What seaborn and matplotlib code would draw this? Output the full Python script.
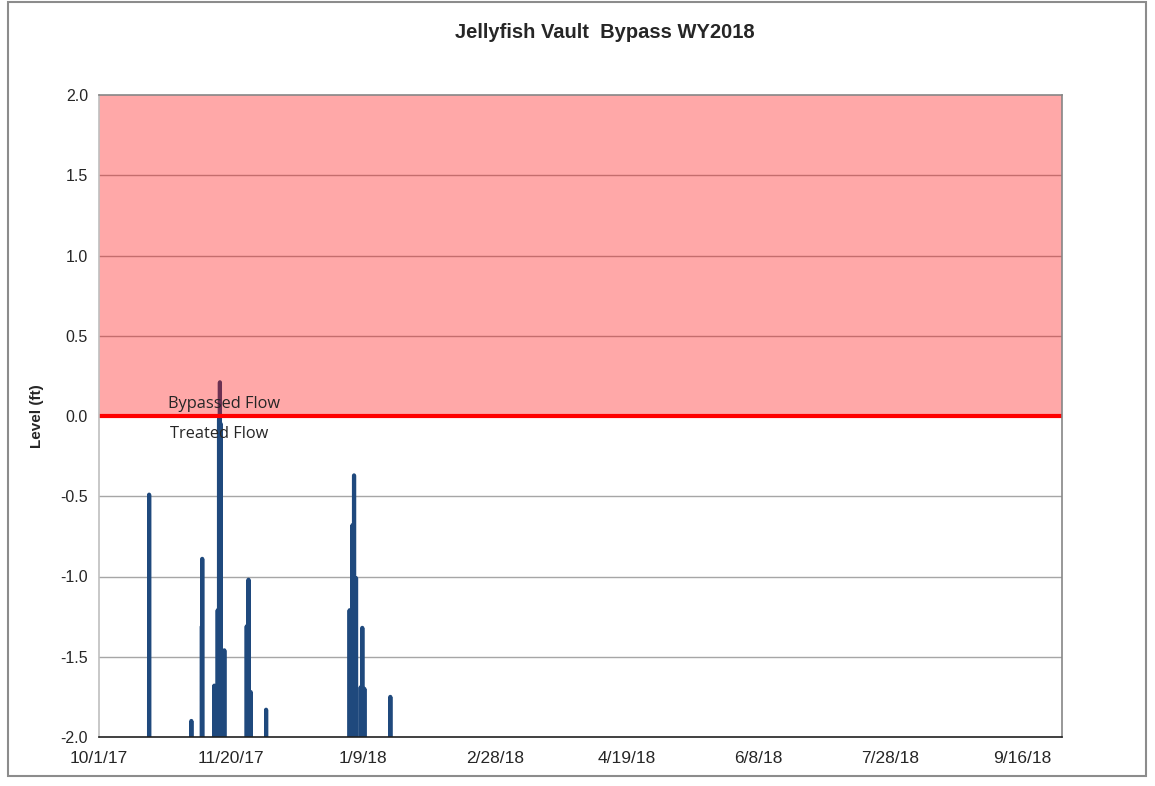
import seaborn as sns
import matplotlib.pyplot as plt
import matplotlib.dates as mdates
from matplotlib.patches import Rectangle
import pandas as pd
import numpy as np

# vault level readings (ft) that rose above the floor of the record
event_times = ['2017-10-20 00:00', '2017-11-05 00:00', '2017-11-09 00:00', '2017-11-09 03:00',
               '2017-11-13 17:00', '2017-11-15 00:00', '2017-11-15 12:00', '2017-11-15 20:00',
               '2017-11-16 04:00', '2017-11-17 12:00', '2017-11-26 00:00', '2017-11-26 16:00',
               '2017-11-27 12:00', '2017-12-03 08:00', '2018-01-04 00:00', '2018-01-05 02:00',
               '2018-01-05 16:00', '2018-01-06 10:00', '2018-01-08 05:00', '2018-01-08 19:00',
               '2018-01-09 14:00', '2018-01-19 10:00']
event_levels = [-0.49, -1.90, -1.31, -0.89,
                -1.68, -1.21, -0.02, 0.21,
                -0.05, -1.46, -1.31, -1.02,
                -1.72, -1.83, -1.21, -0.68,
                -0.37, -1.01, -1.69, -1.32,
                -1.70, -1.75]
floor_level = -3.0  # below the axis: vault empty between events

tick_dates = pd.date_range('2017-10-01', periods=8, freq='50D')
y_ticks = np.arange(-2.0, 2.01, 0.5)

# build line: floor -> peak -> floor for each event
rows = []
for t, v in zip(event_times, event_levels):
    t = pd.Timestamp(t)
    rows.append((t - pd.Timedelta(hours=1), floor_level))
    rows.append((t, v))
    rows.append((t + pd.Timedelta(hours=1), floor_level))
df = pd.DataFrame(rows, columns=['DateTime', 'Level'])

sns.set_style('white')
plt.rcParams['font.family'] = ['Liberation Sans', 'DejaVu Sans']

fig = plt.figure(figsize=(11.55, 7.86), dpi=100)
ax = fig.add_axes([99 / 1155, 1 - 737 / 786, 963 / 1155, 642 / 786])

for y in y_ticks[1:-1]:
    ax.axhline(y, color='#a6a6a6', lw=1, zorder=1)

sns.lineplot(data=df, x='DateTime', y='Level', ax=ax, color='#1f497d', lw=3,
             estimator=None, sort=False, zorder=2)

ax.axhspan(0, 2.0, color='#ff0000', alpha=0.34, lw=0, zorder=3)
ax.axhline(0, color='#ff0000', lw=3, zorder=4)

ax.set_xlim(pd.Timestamp('2017-10-01'), pd.Timestamp('2018-10-01'))
ax.set_ylim(-2.0, 2.0)
ax.set_xticks(tick_dates)
ax.xaxis.set_major_formatter(mdates.DateFormatter('%-m/%-d/%y'))
ax.set_yticks(y_ticks)
ax.set_yticklabels([f'{v:.1f}' for v in y_ticks])
ax.tick_params(axis='y', length=4, color='#a0a0a0', labelsize=11.5, pad=4)
ax.tick_params(axis='x', length=0, labelsize=12.5, pad=10)

for s in ['top', 'right']:
    ax.spines[s].set_color('#868686')
    ax.spines[s].set_linewidth(1.2)
ax.spines['left'].set_color('#bfbfbf')
ax.spines['left'].set_linewidth(1.2)
ax.spines['bottom'].set_color('#202020')
ax.spines['bottom'].set_linewidth(1.2)
for s in ax.spines.values():
    s.set_zorder(5)

ax.set_xlabel('')
ax.set_ylabel('Level (ft)', fontsize=11, fontweight='bold', labelpad=12)
fig.text(605 / 1155, 1 - 33 / 786, 'Jellyfish Vault  Bypass WY2018', fontsize=14.5,
         fontweight='bold', ha='center', va='center')

ax.text(pd.Timestamp('2017-10-27'), 0.075, 'Bypassed Flow', fontsize=11.8,
        family=['Open Sans', 'DejaVu Sans'], va='center', zorder=6)
ax.text(pd.Timestamp('2017-10-28'), -0.11, 'Treated Flow', fontsize=11.8,
        family=['Open Sans', 'DejaVu Sans'], va='center', zorder=6)

fig.add_artist(Rectangle((8 / 1155, 1 - 776 / 786), 1138 / 1155, 774 / 786,
                         transform=fig.transFigure, fill=False,
                         edgecolor='#8c8c8c', lw=1.5))

fig.savefig('out.png', dpi=100)
